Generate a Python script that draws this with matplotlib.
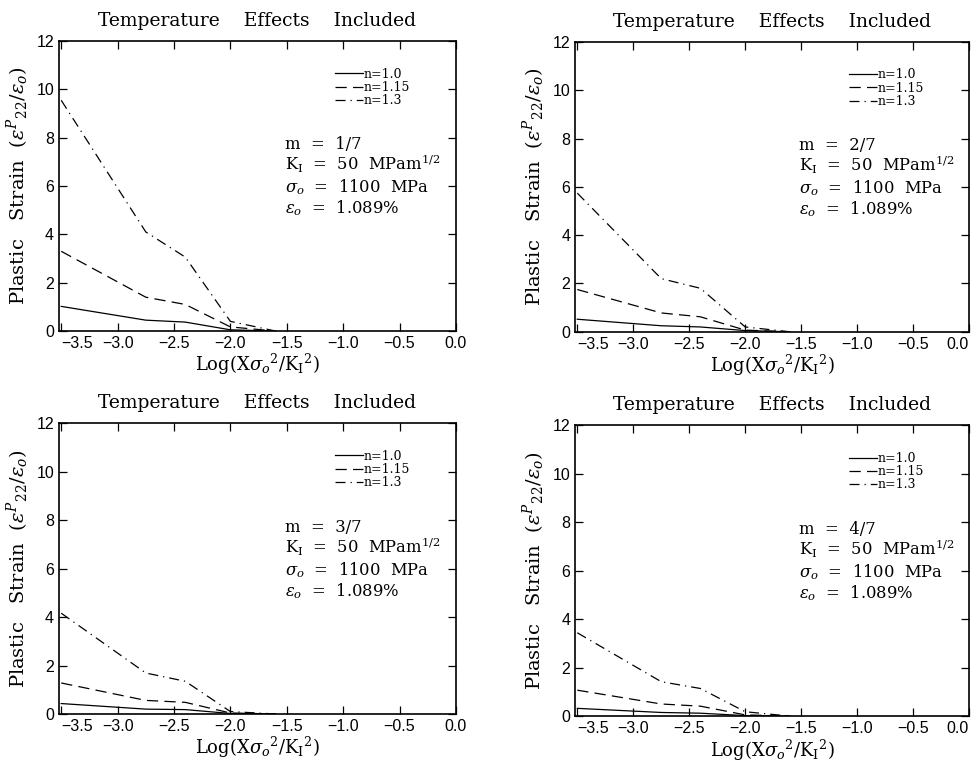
import matplotlib
matplotlib.use('Agg')
import matplotlib.pyplot as plt

# shared x positions of the computed points
x_pts = [-3.5, -2.75, -2.4, -2.0, -1.6]

# m = 1/7
m1_n100 = [1.02, 0.45, 0.37, 0.05, 0.0]
m1_n115 = [3.3, 1.4, 1.1, 0.17, 0.0]
m1_n130 = [9.55, 4.1, 3.06, 0.4, 0.0]
# m = 2/7
m2_n100 = [0.52, 0.25, 0.2, 0.05, 0.0]
m2_n115 = [1.75, 0.78, 0.62, 0.07, 0.0]
m2_n130 = [5.74, 2.2, 1.8, 0.2, 0.0]
# m = 3/7
m3_n100 = [0.43, 0.2, 0.18, 0.02, 0.0]
m3_n115 = [1.28, 0.56, 0.48, 0.04, 0.0]
m3_n130 = [4.16, 1.69, 1.35, 0.1, 0.0]
# m = 4/7
m4_n100 = [0.32, 0.15, 0.12, 0.02, 0.0]
m4_n115 = [1.07, 0.5, 0.41, 0.05, 0.0]
m4_n130 = [3.44, 1.42, 1.14, 0.18, 0.0]

m_labels = ['1/7', '2/7', '3/7', '4/7']
n_labels = ['n=1.0', 'n=1.15', 'n=1.3']
series = [[m1_n100, m1_n115, m1_n130],
          [m2_n100, m2_n115, m2_n130],
          [m3_n100, m3_n115, m3_n130],
          [m4_n100, m4_n115, m4_n130]]
xticks = [-3.5, -3.0, -2.5, -2.0, -1.5, -1.0, -0.5, 0.0]
yticks = [0, 2, 4, 6, 8, 10, 12]

plt.rcParams['font.family'] = 'DejaVu Serif'
plt.rcParams['mathtext.fontset'] = 'dejavuserif'

fig = plt.figure(figsize=(9.73, 7.61), dpi=100)

# axes boxes in figure fractions [left, bottom, width, height]
boxes = [[0.0606, 0.565, 0.408, 0.381],
         [0.591, 0.564, 0.405, 0.381],
         [0.0606, 0.0618, 0.408, 0.382],
         [0.591, 0.059, 0.405, 0.382]]
styles = ['-', (0, (9, 5)), (0, (8, 4, 1, 4))]

for i in range(4):
    ax = fig.add_axes(boxes[i])
    for j in range(3):
        ax.plot(x_pts, series[i][j], color='black', lw=0.9,
                linestyle=styles[j], label=n_labels[j])
    ax.set_xlim(-3.52, 0.0)
    ax.set_ylim(0, 12)
    ax.set_xticks(xticks)
    ax.set_yticks(yticks)
    ax.set_xticklabels(['\u22123.5', '\u22123.0', '\u22122.5', '\u22122.0',
                        '\u22121.5', '\u22121.0', '\u22120.5', '0.0'],
                       family='Liberation Sans', fontsize=11.5)
    ax.get_xticklabels()[0].set_horizontalalignment('left')
    if i % 2 == 1:
        # right column sits at the figure edge
        ax.get_xticklabels()[-1].set_horizontalalignment('right')
    for lab in ax.get_yticklabels():
        lab.set_family('Liberation Sans')
        lab.set_fontsize(11.5)
    ax.tick_params(direction='in', top=True, right=True, length=6, width=0.9)
    for s in ax.spines.values():
        s.set_linewidth(1.2)
    ax.set_title('Temperature    Effects    Included', fontsize=13.5, pad=11)
    ax.set_xlabel(r'Log$(\mathrm{X}\sigma_{o}{}^{2}/\mathrm{K_{I}}{}^{2})$',
                  fontsize=13, labelpad=1)
    ax.set_ylabel(r'Plastic   Strain  $(\varepsilon^{P}{}_{22}/\varepsilon_{o})$',
                  fontsize=14, labelpad=4)
    ax.legend(loc='upper left', bbox_to_anchor=(0.68, 0.93), frameon=False,
              fontsize=9, handlelength=2.2, handletextpad=0.1,
              labelspacing=0.02, borderpad=0)
    tx = 0.569
    fs = 11.8
    ax.text(tx, 0.627, 'm  =  ' + m_labels[i], transform=ax.transAxes, fontsize=fs)
    ax.text(tx, 0.553, r'K$_\mathrm{I}$  =  50  MPam$^{1/2}$', transform=ax.transAxes, fontsize=fs)
    ax.text(tx, 0.478, r'$\sigma_o$  =  1100  MPa', transform=ax.transAxes, fontsize=fs)
    ax.text(tx, 0.405, r'$\varepsilon_o$  =  1.089%', transform=ax.transAxes, fontsize=fs)

plt.savefig('out.png', dpi=100)
